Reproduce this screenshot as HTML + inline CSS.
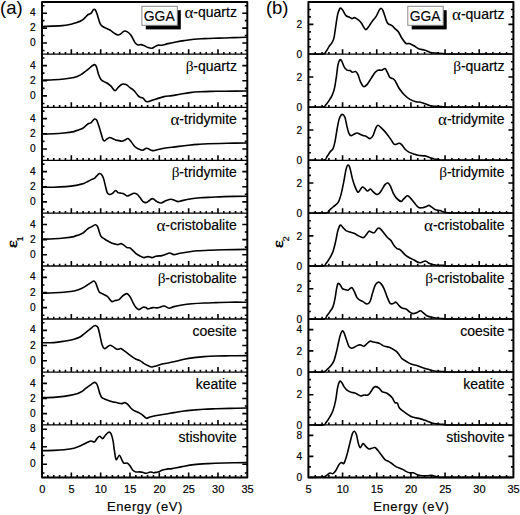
<!DOCTYPE html><html><head><meta charset="utf-8"><style>html,body{margin:0;padding:0;background:#fff;}svg{display:block;}text{font-family:"Liberation Sans",sans-serif;fill:#000;}.s{font-family:"Liberation Serif",serif;}.b{stroke:#000;stroke-width:0.18px;}</style></head><body>
<svg width="520" height="515" viewBox="0 0 520 515">
<rect width="520" height="515" fill="#fff"/>
<text x="35.6" y="42.61" font-size="10.2" text-anchor="end" dominant-baseline="central" class="b">0</text>
<text x="35.6" y="27.7" font-size="10.2" text-anchor="end" dominant-baseline="central" class="b">2</text>
<text x="35.6" y="12.79" font-size="10.2" text-anchor="end" dominant-baseline="central" class="b">4</text>
<path d="M42,26.6 C45.33,26.43 57.17,26 62,25.6 C66.83,25.2 68.83,24.62 71,24.2 C73.17,23.78 73.3,23.67 75,23.1 C76.7,22.53 79.53,21.7 81.2,20.8 C82.87,19.9 83.92,18.7 85,17.7 C86.08,16.7 87,15.38 87.7,14.8 C88.4,14.22 88.62,14.48 89.2,14.2 C89.78,13.92 90.55,13.8 91.2,13.1 C91.85,12.4 92.6,10.65 93.1,10 C93.6,9.35 93.82,9.2 94.2,9.2 C94.58,9.2 94.95,9.28 95.4,10 C95.85,10.72 96.38,12.03 96.9,13.5 C97.42,14.97 97.92,17.02 98.5,18.8 C99.08,20.58 99.7,22.92 100.4,24.2 C101.1,25.48 101.8,25.85 102.7,26.5 C103.6,27.15 104.78,27.6 105.8,28.1 C106.82,28.6 107.9,29.05 108.8,29.5 C109.7,29.95 110.3,30.2 111.2,30.8 C112.1,31.4 113.07,32.4 114.2,33.1 C115.33,33.8 116.87,34.92 118,35 C119.13,35.08 120,34.23 121,33.6 C122,32.97 123,31.53 124,31.2 C125,30.87 125.83,30.93 127,31.6 C128.17,32.27 129.67,33.37 131,35.2 C132.33,37.03 133.83,40.97 135,42.6 C136.17,44.23 137,44.67 138,45 C139,45.33 140,44.5 141,44.6 C142,44.7 142.83,45.1 144,45.6 C145.17,46.1 146.67,47.17 148,47.6 C149.33,48.03 150.83,48.37 152,48.2 C153.17,48.03 154,47.1 155,46.6 C156,46.1 156.83,45.43 158,45.2 C159.17,44.97 160.33,45.47 162,45.2 C163.67,44.93 165.67,44.13 168,43.6 C170.33,43.07 173.33,42.5 176,42 C178.67,41.5 181,41.07 184,40.6 C187,40.13 190.67,39.53 194,39.2 C197.33,38.87 200.67,38.77 204,38.6 C207.33,38.43 210.67,38.3 214,38.2 C217.33,38.1 220.67,38.1 224,38 C227.33,37.9 230.25,37.73 234,37.6 C237.75,37.47 244.42,37.27 246.5,37.2" fill="none" stroke="#000" stroke-width="1.6" stroke-linejoin="round" stroke-linecap="round"/>
<text x="236.9" y="17.2" font-size="14" text-anchor="end" class="b">-quartz</text>
<text transform="translate(193.43,18.1) scale(1.22,1.12)" font-size="14" class="s" text-anchor="end">α</text>
<text x="35.6" y="95.52" font-size="10.2" text-anchor="end" dominant-baseline="central" class="b">0</text>
<text x="35.6" y="80.35" font-size="10.2" text-anchor="end" dominant-baseline="central" class="b">2</text>
<text x="35.6" y="65.18" font-size="10.2" text-anchor="end" dominant-baseline="central" class="b">4</text>
<path d="M42,80.2 C44,80.13 50.33,80 54,79.8 C57.67,79.6 60.67,79.37 64,79 C67.33,78.63 71.17,78.33 74,77.6 C76.83,76.87 79.17,75.6 81,74.6 C82.83,73.6 83.67,72.6 85,71.6 C86.33,70.6 87.83,69.53 89,68.6 C90.17,67.67 91.07,66.67 92,66 C92.93,65.33 93.87,64.5 94.6,64.6 C95.33,64.7 95.73,64.93 96.4,66.6 C97.07,68.27 97.83,72.43 98.6,74.6 C99.37,76.77 100.1,78.43 101,79.6 C101.9,80.77 103,81.03 104,81.6 C105,82.17 105.83,82.23 107,83 C108.17,83.77 109.67,84.93 111,86.2 C112.33,87.47 113.83,90.37 115,90.6 C116.17,90.83 116.83,88.67 118,87.6 C119.17,86.53 120.67,84.7 122,84.2 C123.33,83.7 124.67,84.03 126,84.6 C127.33,85.17 128.67,86.6 130,87.6 C131.33,88.6 132.67,89.27 134,90.6 C135.33,91.93 137,94.5 138,95.6 C139,96.7 139.17,96.77 140,97.2 C140.83,97.63 141.93,97.47 143,98.2 C144.07,98.93 145.23,101.13 146.4,101.6 C147.57,102.07 148.4,101.43 150,101 C151.6,100.57 153.67,99.73 156,99 C158.33,98.27 161.33,97.17 164,96.6 C166.67,96.03 169.33,96 172,95.6 C174.67,95.2 177,94.7 180,94.2 C183,93.7 186.67,93 190,92.6 C193.33,92.2 196.33,92 200,91.8 C203.67,91.6 208,91.5 212,91.4 C216,91.3 218.25,91.27 224,91.2 C229.75,91.13 242.75,91.03 246.5,91" fill="none" stroke="#000" stroke-width="1.6" stroke-linejoin="round" stroke-linecap="round"/>
<text x="236.9" y="70.8" font-size="14" text-anchor="end" class="b">-quartz</text>
<text transform="translate(193.53,70.8) scale(1.1,1.0)" font-size="14" class="s" text-anchor="end">β</text>
<text x="35.6" y="148.54" font-size="10.2" text-anchor="end" dominant-baseline="central" class="b">0</text>
<text x="35.6" y="133.4" font-size="10.2" text-anchor="end" dominant-baseline="central" class="b">2</text>
<text x="35.6" y="118.26" font-size="10.2" text-anchor="end" dominant-baseline="central" class="b">4</text>
<path d="M42,134 C44,133.97 50.33,133.97 54,133.8 C57.67,133.63 60.67,133.37 64,133 C67.33,132.63 72.17,131.93 74,131.6 C75.83,131.27 74.18,131.28 75,131 C75.82,130.72 77.6,130.37 78.9,129.9 C80.2,129.43 81.63,128.92 82.8,128.2 C83.97,127.48 84.93,126.38 85.9,125.6 C86.87,124.82 87.77,123.95 88.6,123.5 C89.43,123.05 90.18,123.4 90.9,122.9 C91.62,122.4 92.25,121.15 92.9,120.5 C93.55,119.85 94.17,119.05 94.8,119 C95.43,118.95 95.98,118.9 96.7,120.2 C97.42,121.5 98.32,124.42 99.1,126.8 C99.88,129.18 100.75,132.37 101.4,134.5 C102.05,136.63 102.48,138.53 103,139.6 C103.52,140.67 103.87,140.97 104.5,140.9 C105.13,140.83 105.95,139.77 106.8,139.2 C107.65,138.63 108.68,137.63 109.6,137.5 C110.52,137.37 111.4,138.05 112.3,138.4 C113.2,138.75 114.38,139.3 115,139.6 C115.62,139.9 115.33,140.03 116,140.2 C116.67,140.37 118,140.43 119,140.6 C120,140.77 121,141.3 122,141.2 C123,141.1 124,140.43 125,140 C126,139.57 127,138.33 128,138.6 C129,138.87 129.83,140.23 131,141.6 C132.17,142.97 133.82,145.62 135,146.8 C136.18,147.98 136.82,148.13 138.1,148.7 C139.38,149.27 141.3,150.27 142.7,150.2 C144.1,150.13 145.08,148.3 146.5,148.3 C147.92,148.3 150.03,149.82 151.2,150.2 C152.37,150.58 152.35,150.72 153.5,150.6 C154.65,150.48 156.57,149.85 158.1,149.5 C159.63,149.15 161.17,148.8 162.7,148.5 C164.23,148.2 165.75,147.9 167.3,147.7 C168.85,147.5 170.08,147.52 172,147.3 C173.92,147.08 176.05,146.73 178.8,146.4 C181.55,146.07 185.3,145.63 188.5,145.3 C191.7,144.97 194.8,144.65 198,144.4 C201.2,144.15 202.88,143.98 207.7,143.8 C212.52,143.62 220.43,143.43 226.9,143.3 C233.37,143.17 243.23,143.05 246.5,143" fill="none" stroke="#000" stroke-width="1.6" stroke-linejoin="round" stroke-linecap="round"/>
<text x="236.9" y="123.9" font-size="14" text-anchor="end" class="b">-tridymite</text>
<text transform="translate(179.44,124.8) scale(1.22,1.12)" font-size="14" class="s" text-anchor="end">α</text>
<text x="35.6" y="201.46" font-size="10.2" text-anchor="end" dominant-baseline="central" class="b">0</text>
<text x="35.6" y="186.35" font-size="10.2" text-anchor="end" dominant-baseline="central" class="b">2</text>
<text x="35.6" y="171.24" font-size="10.2" text-anchor="end" dominant-baseline="central" class="b">4</text>
<path d="M42,187.2 C44,187.2 50,187.3 54,187.2 C58,187.1 62.33,186.9 66,186.6 C69.67,186.3 73.67,185.77 76,185.4 C78.33,185.03 78.68,184.72 80,184.4 C81.32,184.08 82.6,183.98 83.9,183.5 C85.2,183.02 86.5,182.18 87.8,181.5 C89.1,180.82 90.6,179.92 91.7,179.4 C92.8,178.88 93.57,178.98 94.4,178.4 C95.23,177.82 95.87,176.72 96.7,175.9 C97.53,175.08 98.57,173.7 99.4,173.5 C100.23,173.3 100.98,173.78 101.7,174.7 C102.42,175.62 103.05,177 103.7,179 C104.35,181 105.02,184.43 105.6,186.7 C106.18,188.97 106.55,191.3 107.2,192.6 C107.85,193.9 108.67,194.33 109.5,194.5 C110.33,194.67 111.17,194.27 112.2,193.6 C113.23,192.93 114.73,190.67 115.7,190.5 C116.67,190.33 117.28,192.17 118,192.6 C118.72,193.03 119.5,193 120,193.1 C120.5,193.2 120.33,193.05 121,193.2 C121.67,193.35 123,193.53 124,194 C125,194.47 126,195.83 127,196 C128,196.17 128.83,195.47 130,195 C131.17,194.53 132.83,193.33 134,193.2 C135.17,193.07 136,193.47 137,194.2 C138,194.93 139,196.37 140,197.6 C141,198.83 142,200.77 143,201.6 C144,202.43 145.17,202.6 146,202.6 C146.83,202.6 146.93,202.27 148,201.6 C149.07,200.93 150.9,198.6 152.4,198.6 C153.9,198.6 155.57,200.87 157,201.6 C158.43,202.33 159.5,203.17 161,203 C162.5,202.83 164.33,201.23 166,200.6 C167.67,199.97 169.5,199.2 171,199.2 C172.5,199.2 173.83,200.2 175,200.6 C176.17,201 176.83,201.6 178,201.6 C179.17,201.6 180,201.03 182,200.6 C184,200.17 187,199.47 190,199 C193,198.53 196.33,198.1 200,197.8 C203.67,197.5 208,197.4 212,197.2 C216,197 218.25,196.77 224,196.6 C229.75,196.43 242.75,196.27 246.5,196.2" fill="none" stroke="#000" stroke-width="1.6" stroke-linejoin="round" stroke-linecap="round"/>
<text x="236.9" y="176.9" font-size="14" text-anchor="end" class="b">-tridymite</text>
<text transform="translate(179.54,176.9) scale(1.1,1.0)" font-size="14" class="s" text-anchor="end">β</text>
<text x="35.6" y="254.29" font-size="10.2" text-anchor="end" dominant-baseline="central" class="b">0</text>
<text x="35.6" y="239.2" font-size="10.2" text-anchor="end" dominant-baseline="central" class="b">2</text>
<text x="35.6" y="224.11" font-size="10.2" text-anchor="end" dominant-baseline="central" class="b">4</text>
<path d="M42,239.2 C44,239.13 50.33,239 54,238.8 C57.67,238.6 60.67,238.37 64,238 C67.33,237.63 72.17,236.93 74,236.6 C75.83,236.27 74.18,236.28 75,236 C75.82,235.72 77.6,235.38 78.9,234.9 C80.2,234.42 81.7,233.78 82.8,233.1 C83.9,232.42 84.6,231.57 85.5,230.8 C86.4,230.03 87.23,229.15 88.2,228.5 C89.17,227.85 90.13,227.52 91.3,226.9 C92.47,226.28 94.17,224.87 95.2,224.8 C96.23,224.73 96.85,225.43 97.5,226.5 C98.15,227.57 98.52,229.57 99.1,231.2 C99.68,232.83 100.1,235 101,236.3 C101.9,237.6 103.13,238.1 104.5,239 C105.87,239.9 107.77,240.93 109.2,241.7 C110.63,242.47 112.13,243.22 113.1,243.6 C114.07,243.98 114.18,243.83 115,244 C115.82,244.17 117,244.67 118,244.6 C119,244.53 120,243.5 121,243.6 C122,243.7 123,244.53 124,245.2 C125,245.87 126,247.13 127,247.6 C128,248.07 129,247.5 130,248 C131,248.5 132,249.67 133,250.6 C134,251.53 134.83,252.7 136,253.6 C137.17,254.5 138.67,255.33 140,256 C141.33,256.67 142.67,257.5 144,257.6 C145.33,257.7 146.67,256.6 148,256.6 C149.33,256.6 150.67,257.67 152,257.6 C153.33,257.53 154.33,256.53 156,256.2 C157.67,255.87 160.33,255.93 162,255.6 C163.67,255.27 164.67,254.63 166,254.2 C167.33,253.77 168.67,252.93 170,253 C171.33,253.07 172.33,254.57 174,254.6 C175.67,254.63 177.67,253.63 180,253.2 C182.33,252.77 185,252.4 188,252 C191,251.6 194.33,251.1 198,250.8 C201.67,250.5 205.67,250.37 210,250.2 C214.33,250.03 217.92,249.93 224,249.8 C230.08,249.67 242.75,249.47 246.5,249.4" fill="none" stroke="#000" stroke-width="1.6" stroke-linejoin="round" stroke-linecap="round"/>
<text x="236.9" y="229.8" font-size="14" text-anchor="end" class="b">-cristobalite</text>
<text transform="translate(165.42,230.7) scale(1.22,1.12)" font-size="14" class="s" text-anchor="end">α</text>
<text x="35.6" y="307.24" font-size="10.2" text-anchor="end" dominant-baseline="central" class="b">0</text>
<text x="35.6" y="292.1" font-size="10.2" text-anchor="end" dominant-baseline="central" class="b">2</text>
<text x="35.6" y="276.96" font-size="10.2" text-anchor="end" dominant-baseline="central" class="b">4</text>
<path d="M42,293.2 C44,293.13 50.33,292.97 54,292.8 C57.67,292.63 60.67,292.5 64,292.2 C67.33,291.9 71,291.67 74,291 C77,290.33 79.83,289.17 82,288.2 C84.17,287.23 85.5,286.13 87,285.2 C88.5,284.27 89.83,283.3 91,282.6 C92.17,281.9 93.17,280.83 94,281 C94.83,281.17 95.17,281.83 96,283.6 C96.83,285.37 98,289.93 99,291.6 C100,293.27 100.67,292.83 102,293.6 C103.33,294.37 105.67,295.2 107,296.2 C108.33,297.2 109.17,298.7 110,299.6 C110.83,300.5 111.17,301.43 112,301.6 C112.83,301.77 113.83,300.93 115,300.6 C116.17,300.27 117.67,300.43 119,299.6 C120.33,298.77 121.67,296.6 123,295.6 C124.33,294.6 125.83,293.43 127,293.6 C128.17,293.77 129,295.1 130,296.6 C131,298.1 132,300.77 133,302.6 C134,304.43 135,306.43 136,307.6 C137,308.77 137.83,309.67 139,309.6 C140.17,309.53 141.83,307.53 143,307.2 C144.17,306.87 145.17,307.3 146,307.6 C146.83,307.9 146.83,309 148,309 C149.17,309 151.33,307.8 153,307.6 C154.67,307.4 156.17,308.07 158,307.8 C159.83,307.53 162.17,305.93 164,306 C165.83,306.07 167.33,308.1 169,308.2 C170.67,308.3 171.83,307.13 174,306.6 C176.17,306.07 179,305.47 182,305 C185,304.53 188.33,304.13 192,303.8 C195.67,303.47 200,303.2 204,303 C208,302.8 211.67,302.73 216,302.6 C220.33,302.47 224.92,302.27 230,302.2 C235.08,302.13 243.75,302.2 246.5,302.2" fill="none" stroke="#000" stroke-width="1.6" stroke-linejoin="round" stroke-linecap="round"/>
<text x="236.9" y="282.6" font-size="14" text-anchor="end" class="b">-cristobalite</text>
<text transform="translate(165.52,282.6) scale(1.1,1.0)" font-size="14" class="s" text-anchor="end">β</text>
<text x="35.6" y="360.32" font-size="10.2" text-anchor="end" dominant-baseline="central" class="b">0</text>
<text x="35.6" y="345.15" font-size="10.2" text-anchor="end" dominant-baseline="central" class="b">2</text>
<text x="35.6" y="329.98" font-size="10.2" text-anchor="end" dominant-baseline="central" class="b">4</text>
<path d="M42,342.8 C44,342.77 50.33,342.87 54,342.6 C57.67,342.33 60.67,341.77 64,341.2 C67.33,340.63 71.33,339.9 74,339.2 C76.67,338.5 78.17,338 80,337 C81.83,336 83.33,334.5 85,333.2 C86.67,331.9 88.57,330.37 90,329.2 C91.43,328.03 92.67,326.8 93.6,326.2 C94.53,325.6 94.87,325.37 95.6,325.6 C96.33,325.83 97.27,325.93 98,327.6 C98.73,329.27 99.33,332.77 100,335.6 C100.67,338.43 101.27,342.43 102,344.6 C102.73,346.77 103.57,348.17 104.4,348.6 C105.23,349.03 106.07,347.77 107,347.2 C107.93,346.63 109,345.3 110,345.2 C111,345.1 111.83,345.93 113,346.6 C114.17,347.27 115.67,348.87 117,349.2 C118.33,349.53 119.83,348.37 121,348.6 C122.17,348.83 122.83,349.77 124,350.6 C125.17,351.43 126.67,352.6 128,353.6 C129.33,354.6 130.67,355.67 132,356.6 C133.33,357.53 134.67,358.53 136,359.2 C137.33,359.87 138.67,359.87 140,360.6 C141.33,361.33 142.67,362.77 144,363.6 C145.33,364.43 146.73,365.03 148,365.6 C149.27,366.17 150.27,366.93 151.6,367 C152.93,367.07 154.27,366.5 156,366 C157.73,365.5 160,364.5 162,364 C164,363.5 165.67,363.47 168,363 C170.33,362.53 173.33,361.83 176,361.2 C178.67,360.57 181,359.8 184,359.2 C187,358.6 190.67,358.03 194,357.6 C197.33,357.17 200.33,356.87 204,356.6 C207.67,356.33 211.67,356.13 216,356 C220.33,355.87 224.92,355.87 230,355.8 C235.08,355.73 243.75,355.63 246.5,355.6" fill="none" stroke="#000" stroke-width="1.6" stroke-linejoin="round" stroke-linecap="round"/>
<text x="236.9" y="335.6" font-size="14" text-anchor="end" class="b">coesite</text>
<text x="35.6" y="413.19" font-size="10.2" text-anchor="end" dominant-baseline="central" class="b">0</text>
<text x="35.6" y="398.1" font-size="10.2" text-anchor="end" dominant-baseline="central" class="b">2</text>
<text x="35.6" y="383.01" font-size="10.2" text-anchor="end" dominant-baseline="central" class="b">4</text>
<path d="M42,397.6 C44,397.57 50.33,397.6 54,397.4 C57.67,397.2 60.67,396.87 64,396.4 C67.33,395.93 71.17,395.33 74,394.6 C76.83,393.87 79,393.07 81,392 C83,390.93 84.33,389.43 86,388.2 C87.67,386.97 89.6,385.57 91,384.6 C92.4,383.63 93.45,382.52 94.4,382.4 C95.35,382.28 96.05,382.93 96.7,383.9 C97.35,384.87 97.77,386.58 98.3,388.2 C98.83,389.82 99.32,392.05 99.9,393.6 C100.48,395.15 101.03,396.62 101.8,397.5 C102.57,398.38 103.4,398.4 104.5,398.9 C105.6,399.4 107.1,400.02 108.4,400.5 C109.7,400.98 111.2,401.5 112.3,401.8 C113.4,402.1 114.05,402.1 115,402.3 C115.95,402.5 116.83,402.78 118,403 C119.17,403.22 120.83,403.67 122,403.6 C123.17,403.53 124,402.43 125,402.6 C126,402.77 127,403.67 128,404.6 C129,405.53 130,407.2 131,408.2 C132,409.2 132.83,409.93 134,410.6 C135.17,411.27 136.67,411.53 138,412.2 C139.33,412.87 140.6,413.6 142,414.6 C143.4,415.6 145.07,417.8 146.4,418.2 C147.73,418.6 148.07,417.5 150,417 C151.93,416.5 155.33,415.7 158,415.2 C160.67,414.7 163.33,414.43 166,414 C168.67,413.57 171,413.1 174,412.6 C177,412.1 180.67,411.43 184,411 C187.33,410.57 190.67,410.3 194,410 C197.33,409.7 200.33,409.4 204,409.2 C207.67,409 211.67,408.93 216,408.8 C220.33,408.67 224.92,408.53 230,408.4 C235.08,408.27 243.75,408.07 246.5,408" fill="none" stroke="#000" stroke-width="1.6" stroke-linejoin="round" stroke-linecap="round"/>
<text x="236.9" y="388.7" font-size="14" text-anchor="end" class="b">keatite</text>
<text x="35.6" y="463.88" font-size="10.2" text-anchor="end" dominant-baseline="central" class="b">0</text>
<text x="35.6" y="446.38" font-size="10.2" text-anchor="end" dominant-baseline="central" class="b">4</text>
<text x="35.6" y="428.88" font-size="10.2" text-anchor="end" dominant-baseline="central" class="b">8</text>
<path d="M42,450.6 C44,450.57 50.33,450.53 54,450.4 C57.67,450.27 60.67,450.17 64,449.8 C67.33,449.43 71.17,448.9 74,448.2 C76.83,447.5 78.83,446.53 81,445.6 C83.17,444.67 85.33,443.37 87,442.6 C88.67,441.83 89.77,441.1 91,441 C92.23,440.9 93.4,442.4 94.4,442 C95.4,441.6 96.13,439.57 97,438.6 C97.87,437.63 98.67,436.2 99.6,436.2 C100.53,436.2 101.6,438.8 102.6,438.6 C103.6,438.4 104.6,436.07 105.6,435 C106.6,433.93 107.7,432.43 108.6,432.2 C109.5,431.97 110.27,432.2 111,433.6 C111.73,435 112.43,437.77 113,440.6 C113.57,443.43 113.87,447.43 114.4,450.6 C114.93,453.77 115.37,458.83 116.2,459.6 C117.03,460.37 118.43,455.1 119.4,455.2 C120.37,455.3 121.23,458.87 122,460.2 C122.77,461.53 123.08,462.7 124,463.2 C124.92,463.7 126.45,462.7 127.5,463.2 C128.55,463.7 129.45,465.07 130.3,466.2 C131.15,467.33 131.7,469.05 132.6,470 C133.5,470.95 134.55,471.58 135.7,471.9 C136.85,472.22 138.22,471.8 139.5,471.9 C140.78,472 142.23,472.27 143.4,472.5 C144.57,472.73 145.35,473.38 146.5,473.3 C147.65,473.22 149.15,472.1 150.3,472 C151.45,471.9 152.37,472.65 153.4,472.7 C154.43,472.75 155.48,472.5 156.5,472.3 C157.52,472.1 158.62,471.83 159.5,471.5 C160.38,471.17 160.9,470.63 161.8,470.3 C162.7,469.97 163.87,469.73 164.9,469.5 C165.93,469.27 166.82,469.05 168,468.9 C169.18,468.75 169.67,468.98 172,468.6 C174.33,468.22 178.33,467.27 182,466.6 C185.67,465.93 189.67,465.1 194,464.6 C198.33,464.1 203,463.87 208,463.6 C213,463.33 217.58,463.17 224,463 C230.42,462.83 242.75,462.67 246.5,462.6" fill="none" stroke="#000" stroke-width="1.6" stroke-linejoin="round" stroke-linecap="round"/>
<text x="236.9" y="441.5" font-size="14" text-anchor="end" class="b">stishovite</text>
<line x1="42" y1="54.2" x2="247.3" y2="54.2" stroke="#000" stroke-width="1.3"/>
<line x1="42" y1="107.3" x2="247.3" y2="107.3" stroke="#000" stroke-width="1.3"/>
<line x1="42" y1="160.3" x2="247.3" y2="160.3" stroke="#000" stroke-width="1.3"/>
<line x1="42" y1="213.2" x2="247.3" y2="213.2" stroke="#000" stroke-width="1.3"/>
<line x1="42" y1="266" x2="247.3" y2="266" stroke="#000" stroke-width="1.3"/>
<line x1="42" y1="319" x2="247.3" y2="319" stroke="#000" stroke-width="1.3"/>
<line x1="42" y1="372.1" x2="247.3" y2="372.1" stroke="#000" stroke-width="1.3"/>
<line x1="42" y1="424.9" x2="247.3" y2="424.9" stroke="#000" stroke-width="1.3"/>
<rect x="42" y="2" width="205.3" height="475.4" fill="none" stroke="#000" stroke-width="2" stroke-linejoin="round"/>
<text x="42.2" y="492.9" font-size="11" text-anchor="middle" class="b">0</text>
<text x="71.53" y="492.9" font-size="11" text-anchor="middle" class="b">5</text>
<text x="100.86" y="492.9" font-size="11" text-anchor="middle" class="b">10</text>
<text x="130.19" y="492.9" font-size="11" text-anchor="middle" class="b">15</text>
<text x="159.51" y="492.9" font-size="11" text-anchor="middle" class="b">20</text>
<text x="188.84" y="492.9" font-size="11" text-anchor="middle" class="b">25</text>
<text x="218.17" y="492.9" font-size="11" text-anchor="middle" class="b">30</text>
<text x="247.5" y="492.9" font-size="11" text-anchor="middle" class="b">35</text>
<text x="302.2" y="54.4" font-size="10.2" text-anchor="end" dominant-baseline="central" class="b">0</text>
<text x="302.2" y="24.57" font-size="10.2" text-anchor="end" dominant-baseline="central" class="b">2</text>
<path d="M309,54 C311.33,54 320.17,54.4 323,54 C325.83,53.6 325,52.83 326,51.6 C327,50.37 328,48.1 329,46.6 C330,45.1 331.17,44.1 332,42.6 C332.83,41.1 333.33,40.6 334,37.6 C334.67,34.6 335.4,28.43 336,24.6 C336.6,20.77 337,17.2 337.6,14.6 C338.2,12 339.03,10.07 339.6,9 C340.17,7.93 340.43,7.93 341,8.2 C341.57,8.47 342.17,9.37 343,10.6 C343.83,11.83 345,14.53 346,15.6 C347,16.67 348,16.5 349,17 C350,17.5 351.1,18.5 352,18.6 C352.9,18.7 353.4,17.43 354.4,17.6 C355.4,17.77 356.9,18.77 358,19.6 C359.1,20.43 360,21.27 361,22.6 C362,23.93 363.17,26.43 364,27.6 C364.83,28.77 365.17,29.83 366,29.6 C366.83,29.37 368,27.53 369,26.2 C370,24.87 370.83,23.2 372,21.6 C373.17,20 374.83,18.43 376,16.6 C377.17,14.77 378.17,12 379,10.6 C379.83,9.2 380.33,8.2 381,8.2 C381.67,8.2 382.17,8.7 383,10.6 C383.83,12.5 385.17,17.43 386,19.6 C386.83,21.77 387,22.6 388,23.6 C389,24.6 390.83,24.77 392,25.6 C393.17,26.43 393.92,27.53 395,28.6 C396.08,29.67 397.35,30.38 398.5,32 C399.65,33.62 400.65,36.38 401.9,38.3 C403.15,40.22 404.75,42.63 406,43.5 C407.25,44.37 408.07,43.12 409.4,43.5 C410.73,43.88 412.37,44.87 414,45.8 C415.63,46.73 417.47,48.42 419.2,49.1 C420.93,49.78 422.87,49.48 424.4,49.9 C425.93,50.32 427.15,51.12 428.4,51.6 C429.65,52.08 430.55,52.55 431.9,52.8 C433.25,53.05 434.32,52.95 436.5,53.1 C438.68,53.25 442.42,53.55 445,53.7 C447.58,53.85 440.83,53.95 452,54 C463.17,54.05 502,54 512,54" fill="none" stroke="#000" stroke-width="1.6" stroke-linejoin="round" stroke-linecap="round"/>
<text x="504.5" y="18.9" font-size="14" text-anchor="end" class="b">-quartz</text>
<text transform="translate(461.03,19.8) scale(1.22,1.12)" font-size="14" class="s" text-anchor="end">α</text>
<text x="302.2" y="107.5" font-size="10.2" text-anchor="end" dominant-baseline="central" class="b">0</text>
<text x="302.2" y="77.16" font-size="10.2" text-anchor="end" dominant-baseline="central" class="b">2</text>
<path d="M309,107 C311.33,107 320.17,107.4 323,107 C325.83,106.6 325,105.67 326,104.6 C327,103.53 328,102.1 329,100.6 C330,99.1 331.1,97.6 332,95.6 C332.9,93.6 333.67,91.77 334.4,88.6 C335.13,85.43 335.8,80.6 336.4,76.6 C337,72.6 337.4,67.43 338,64.6 C338.6,61.77 339.33,60.1 340,59.6 C340.67,59.1 341.33,60.43 342,61.6 C342.67,62.77 343.17,65.17 344,66.6 C344.83,68.03 346,69.53 347,70.2 C348,70.87 349.1,70.27 350,70.6 C350.9,70.93 351.47,72.03 352.4,72.2 C353.33,72.37 354.67,71.2 355.6,71.6 C356.53,72 357.2,72.93 358,74.6 C358.8,76.27 359.47,79.6 360.4,81.6 C361.33,83.6 362.5,86.1 363.6,86.6 C364.7,87.1 365.77,85.93 367,84.6 C368.23,83.27 369.67,80.6 371,78.6 C372.33,76.6 373.83,74 375,72.6 C376.17,71.2 376.9,70.6 378,70.2 C379.1,69.8 380.43,70.47 381.6,70.2 C382.77,69.93 384.1,68.37 385,68.6 C385.9,68.83 386.17,70.1 387,71.6 C387.83,73.1 389,76.43 390,77.6 C391,78.77 392.17,78.1 393,78.6 C393.83,79.1 394.28,79.53 395,80.6 C395.72,81.67 396.53,83.6 397.3,85 C398.07,86.4 398.45,87.37 399.6,89 C400.75,90.63 402.47,93.07 404.2,94.8 C405.93,96.53 408.07,98.25 410,99.4 C411.93,100.55 414.07,101.22 415.8,101.7 C417.53,102.18 418.87,101.97 420.4,102.3 C421.93,102.63 423.47,103.17 425,103.7 C426.53,104.23 428.07,105.07 429.6,105.5 C431.13,105.93 432.67,106.15 434.2,106.3 C435.73,106.45 437.27,106.33 438.8,106.4 C440.33,106.47 441.53,106.6 443.4,106.7 C445.27,106.8 438.57,106.95 450,107 C461.43,107.05 501.67,107 512,107" fill="none" stroke="#000" stroke-width="1.6" stroke-linejoin="round" stroke-linecap="round"/>
<text x="504.5" y="71.2" font-size="14" text-anchor="end" class="b">-quartz</text>
<text transform="translate(461.13,71.2) scale(1.1,1.0)" font-size="14" class="s" text-anchor="end">β</text>
<text x="302.2" y="160.5" font-size="10.2" text-anchor="end" dominant-baseline="central" class="b">0</text>
<text x="302.2" y="130.21" font-size="10.2" text-anchor="end" dominant-baseline="central" class="b">2</text>
<path d="M309,160 C311.5,160 321,160.57 324,160 C327,159.43 326,157.93 327,156.6 C328,155.27 329,153.33 330,152 C331,150.67 332.17,150.33 333,148.6 C333.83,146.87 334.33,144.77 335,141.6 C335.67,138.43 336.33,133.27 337,129.6 C337.67,125.93 338.33,122 339,119.6 C339.67,117.2 340.33,116.03 341,115.2 C341.67,114.37 342.33,114.2 343,114.6 C343.67,115 344.33,115.6 345,117.6 C345.67,119.6 346.33,123.93 347,126.6 C347.67,129.27 348.33,132.1 349,133.6 C349.67,135.1 350.17,135.5 351,135.6 C351.83,135.7 353,134.63 354,134.2 C355,133.77 356,133 357,133 C358,133 359,133.77 360,134.2 C361,134.63 362,135.27 363,135.6 C364,135.93 364.83,135.7 366,136.2 C367.17,136.7 368.83,138.7 370,138.6 C371.17,138.5 372,137.43 373,135.6 C374,133.77 375.17,129.33 376,127.6 C376.83,125.87 377.17,125.2 378,125.2 C378.83,125.2 379.83,126.53 381,127.6 C382.17,128.67 383.83,130.27 385,131.6 C386.17,132.93 387,134.27 388,135.6 C389,136.93 390,138.17 391,139.6 C392,141.03 393,143.47 394,144.2 C395,144.93 396.07,144.17 397,144 C397.93,143.83 398.78,143.05 399.6,143.2 C400.42,143.35 400.93,143.85 401.9,144.9 C402.87,145.95 404.15,148.25 405.4,149.5 C406.65,150.75 408.05,151.67 409.4,152.4 C410.75,153.13 412.05,153.42 413.5,153.9 C414.95,154.38 416.18,154.97 418.1,155.3 C420.02,155.63 423.08,155.55 425,155.9 C426.92,156.25 428.07,156.88 429.6,157.4 C431.13,157.92 432.67,158.65 434.2,159 C435.73,159.35 436.83,159.33 438.8,159.5 C440.77,159.67 433.8,159.92 446,160 C458.2,160.08 501,160 512,160" fill="none" stroke="#000" stroke-width="1.6" stroke-linejoin="round" stroke-linecap="round"/>
<text x="504.5" y="124.3" font-size="14" text-anchor="end" class="b">-tridymite</text>
<text transform="translate(447.04,125.2) scale(1.22,1.12)" font-size="14" class="s" text-anchor="end">α</text>
<text x="302.2" y="213.4" font-size="10.2" text-anchor="end" dominant-baseline="central" class="b">0</text>
<text x="302.2" y="183.17" font-size="10.2" text-anchor="end" dominant-baseline="central" class="b">2</text>
<path d="M309,213 C311.83,213 322.67,213.4 326,213 C329.33,212.6 327.83,211.6 329,210.6 C330.17,209.6 331.5,208.33 333,207 C334.5,205.67 336.67,204.67 338,202.6 C339.33,200.53 340.07,197.93 341,194.6 C341.93,191.27 342.77,186.77 343.6,182.6 C344.43,178.43 345.27,172.53 346,169.6 C346.73,166.67 347.33,165.23 348,165 C348.67,164.77 349.27,165.93 350,168.2 C350.73,170.47 351.57,175.53 352.4,178.6 C353.23,181.67 354.07,184.33 355,186.6 C355.93,188.87 357.1,191.7 358,192.2 C358.9,192.7 359.67,190.47 360.4,189.6 C361.13,188.73 361.63,187.17 362.4,187 C363.17,186.83 364.13,187.93 365,188.6 C365.87,189.27 366.7,190.93 367.6,191 C368.5,191.07 369.5,188.9 370.4,189 C371.3,189.1 372.07,190.73 373,191.6 C373.93,192.47 375,193.87 376,194.2 C377,194.53 378,194.37 379,193.6 C380,192.83 381,191.1 382,189.6 C383,188.1 384,185.7 385,184.6 C386,183.5 387.1,182.73 388,183 C388.9,183.27 389.57,184.6 390.4,186.2 C391.23,187.8 392.07,190.7 393,192.6 C393.93,194.5 394.7,196.13 396,197.6 C397.3,199.07 399.55,201.13 400.8,201.4 C402.05,201.67 402.45,200.13 403.5,199.2 C404.55,198.27 406.1,196.17 407.1,195.8 C408.1,195.43 408.63,196.27 409.5,197 C410.37,197.73 410.87,198.5 412.3,200.2 C413.73,201.9 416.37,205.95 418.1,207.2 C419.83,208.45 421.3,207.82 422.7,207.7 C424.1,207.58 425.45,206.88 426.5,206.5 C427.55,206.12 428.1,205.28 429,205.4 C429.9,205.52 430.83,206.48 431.9,207.2 C432.97,207.92 434.05,209.13 435.4,209.7 C436.75,210.27 438.47,210.17 440,210.6 C441.53,211.03 443.07,211.93 444.6,212.3 C446.13,212.67 447.47,212.68 449.2,212.8 C450.93,212.92 444.53,212.97 455,213 C465.47,213.03 502.5,213 512,213" fill="none" stroke="#000" stroke-width="1.6" stroke-linejoin="round" stroke-linecap="round"/>
<text x="504.5" y="177.3" font-size="14" text-anchor="end" class="b">-tridymite</text>
<text transform="translate(447.14,177.3) scale(1.1,1.0)" font-size="14" class="s" text-anchor="end">β</text>
<text x="302.2" y="266.2" font-size="10.2" text-anchor="end" dominant-baseline="central" class="b">0</text>
<text x="302.2" y="236.03" font-size="10.2" text-anchor="end" dominant-baseline="central" class="b">2</text>
<path d="M309,266 C311.33,266 320.17,266.4 323,266 C325.83,265.6 324.83,265 326,263.6 C327.17,262.2 328.83,259.6 330,257.6 C331.17,255.6 332.07,254.27 333,251.6 C333.93,248.93 334.83,244.93 335.6,241.6 C336.37,238.27 336.93,234.2 337.6,231.6 C338.27,229 339.03,227.07 339.6,226 C340.17,224.93 340.43,224.93 341,225.2 C341.57,225.47 342.17,226.7 343,227.6 C343.83,228.5 344.83,229.87 346,230.6 C347.17,231.33 348.67,231.57 350,232 C351.33,232.43 352.67,232.6 354,233.2 C355.33,233.8 356.83,234.97 358,235.6 C359.17,236.23 360.07,236.67 361,237 C361.93,237.33 362.7,238 363.6,237.6 C364.5,237.2 365.5,235.67 366.4,234.6 C367.3,233.53 368.13,231.6 369,231.2 C369.87,230.8 370.7,231.97 371.6,232.2 C372.5,232.43 373.5,233.1 374.4,232.6 C375.3,232.1 376.23,229.97 377,229.2 C377.77,228.43 378.17,227.77 379,228 C379.83,228.23 381,229.5 382,230.6 C383,231.7 384,233.37 385,234.6 C386,235.83 387,237 388,238 C389,239 390,239.33 391,240.6 C392,241.87 393,244.27 394,245.6 C395,246.93 396,247.93 397,248.6 C398,249.27 399,248.93 400,249.6 C401,250.27 402,251.6 403,252.6 C404,253.6 404.83,254.7 406,255.6 C407.17,256.5 408.67,257.27 410,258 C411.33,258.73 412.5,259.23 414,260 C415.5,260.77 417.67,262.23 419,262.6 C420.33,262.97 420.9,262.47 422,262.2 C423.1,261.93 424.33,260.77 425.6,261 C426.87,261.23 428.17,262.97 429.6,263.6 C431.03,264.23 432.67,264.5 434.2,264.8 C435.73,265.1 437.27,265.33 438.8,265.4 C440.33,265.47 441.53,265.1 443.4,265.2 C445.27,265.3 438.57,265.87 450,266 C461.43,266.13 501.67,266 512,266" fill="none" stroke="#000" stroke-width="1.6" stroke-linejoin="round" stroke-linecap="round"/>
<text x="504.5" y="230.2" font-size="14" text-anchor="end" class="b">-cristobalite</text>
<text transform="translate(433.02,231.1) scale(1.22,1.12)" font-size="14" class="s" text-anchor="end">α</text>
<text x="302.2" y="319.2" font-size="10.2" text-anchor="end" dominant-baseline="central" class="b">0</text>
<text x="302.2" y="288.91" font-size="10.2" text-anchor="end" dominant-baseline="central" class="b">2</text>
<path d="M309,319 C311.5,319 321,319.57 324,319 C327,318.43 326,316.83 327,315.6 C328,314.37 329,313.1 330,311.6 C331,310.1 332.17,308.77 333,306.6 C333.83,304.43 334.4,301.6 335,298.6 C335.6,295.6 336.1,291.1 336.6,288.6 C337.1,286.1 337.43,284.27 338,283.6 C338.57,282.93 339.27,283.77 340,284.6 C340.73,285.43 341.57,287.77 342.4,288.6 C343.23,289.43 344.07,289.33 345,289.6 C345.93,289.87 347.17,290.37 348,290.2 C348.83,290.03 349.33,289.03 350,288.6 C350.67,288.17 351.27,287.1 352,287.6 C352.73,288.1 353.57,289.93 354.4,291.6 C355.23,293.27 356.07,296.17 357,297.6 C357.93,299.03 359,299.53 360,300.2 C361,300.87 361.83,300.97 363,301.6 C364.17,302.23 365.83,304 367,304 C368.17,304 369.1,303.33 370,301.6 C370.9,299.87 371.57,296.27 372.4,293.6 C373.23,290.93 374.07,287.5 375,285.6 C375.93,283.7 377,282.53 378,282.2 C379,281.87 380,282.53 381,283.6 C382,284.67 383,286.43 384,288.6 C385,290.77 386,294.17 387,296.6 C388,299.03 389,302.03 390,303.2 C391,304.37 392,303.77 393,303.6 C394,303.43 395,301.87 396,302.2 C397,302.53 398,304.63 399,305.6 C400,306.57 400.83,307.43 402,308 C403.17,308.57 404.67,308.3 406,309 C407.33,309.7 408.83,311.43 410,312.2 C411.17,312.97 411.92,313.5 413,313.6 C414.08,313.7 415.27,313.27 416.5,312.8 C417.73,312.33 419.32,310.83 420.4,310.8 C421.48,310.77 421.85,311.73 423,312.6 C424.15,313.47 425.62,315.18 427.3,316 C428.98,316.82 431.18,317.12 433.1,317.5 C435.02,317.88 436.98,318.1 438.8,318.3 C440.62,318.5 442.13,318.58 444,318.7 C445.87,318.82 438.67,318.95 450,319 C461.33,319.05 501.67,319 512,319" fill="none" stroke="#000" stroke-width="1.6" stroke-linejoin="round" stroke-linecap="round"/>
<text x="504.5" y="283" font-size="14" text-anchor="end" class="b">-cristobalite</text>
<text transform="translate(433.12,283) scale(1.1,1.0)" font-size="14" class="s" text-anchor="end">β</text>
<text x="302.2" y="372.3" font-size="10.2" text-anchor="end" dominant-baseline="central" class="b">0</text>
<text x="302.2" y="351.06" font-size="10.2" text-anchor="end" dominant-baseline="central" class="b">2</text>
<text x="302.2" y="329.82" font-size="10.2" text-anchor="end" dominant-baseline="central" class="b">4</text>
<path d="M309,372 C311.33,372 320,372.4 323,372 C326,371.6 325.67,370.67 327,369.6 C328.33,368.53 329.83,367.1 331,365.6 C332.17,364.1 333,363.27 334,360.6 C335,357.93 336.07,353.43 337,349.6 C337.93,345.77 338.77,340.67 339.6,337.6 C340.43,334.53 341.27,332.03 342,331.2 C342.73,330.37 343.27,331.2 344,332.6 C344.73,334 345.57,337.27 346.4,339.6 C347.23,341.93 348.13,345.17 349,346.6 C349.87,348.03 350.7,348.1 351.6,348.2 C352.5,348.3 353.33,347.7 354.4,347.2 C355.47,346.7 356.9,345.57 358,345.2 C359.1,344.83 360,344.83 361,345 C362,345.17 363,346.43 364,346.2 C365,345.97 366,344.43 367,343.6 C368,342.77 369,341.47 370,341.2 C371,340.93 371.83,341.77 373,342 C374.17,342.23 375.83,342.33 377,342.6 C378.17,342.87 379,343.1 380,343.6 C381,344.1 382,345.1 383,345.6 C384,346.1 385,346.33 386,346.6 C387,346.87 388,346.87 389,347.2 C390,347.53 390.83,347.93 392,348.6 C393.17,349.27 394.83,350.2 396,351.2 C397.17,352.2 398,353.37 399,354.6 C400,355.83 400.75,357.45 402,358.6 C403.25,359.75 404.97,360.58 406.5,361.5 C408.03,362.42 409.47,363.42 411.2,364.1 C412.93,364.78 415.18,365.07 416.9,365.6 C418.62,366.13 419.97,366.78 421.5,367.3 C423.03,367.82 424.55,368.22 426.1,368.7 C427.65,369.18 429.45,369.82 430.8,370.2 C432.15,370.58 432.87,370.8 434.2,371 C435.53,371.2 437.07,371.3 438.8,371.4 C440.53,371.5 442.57,371.5 444.6,371.6 C446.63,371.7 439.77,371.93 451,372 C462.23,372.07 501.83,372 512,372" fill="none" stroke="#000" stroke-width="1.6" stroke-linejoin="round" stroke-linecap="round"/>
<text x="504.5" y="336" font-size="14" text-anchor="end" class="b">coesite</text>
<text x="302.2" y="425.1" font-size="10.2" text-anchor="end" dominant-baseline="central" class="b">0</text>
<text x="302.2" y="394.93" font-size="10.2" text-anchor="end" dominant-baseline="central" class="b">2</text>
<path d="M309,425 C311.33,425 320.17,425.4 323,425 C325.83,424.6 324.83,424 326,422.6 C327.17,421.2 328.83,418.6 330,416.6 C331.17,414.6 332.07,413.27 333,410.6 C333.93,407.93 334.83,404.43 335.6,400.6 C336.37,396.77 336.93,390.77 337.6,387.6 C338.27,384.43 338.93,382.5 339.6,381.6 C340.27,380.7 340.87,381.37 341.6,382.2 C342.33,383.03 343.1,385.27 344,386.6 C344.9,387.93 345.83,389.27 347,390.2 C348.17,391.13 349.67,391.73 351,392.2 C352.33,392.67 353.83,392.6 355,393 C356.17,393.4 357,394.1 358,394.6 C359,395.1 360,395.93 361,396 C362,396.07 362.83,395.17 364,395 C365.17,394.83 366.83,395.57 368,395 C369.17,394.43 370.07,392.83 371,391.6 C371.93,390.37 372.77,388.43 373.6,387.6 C374.43,386.77 375.1,386.5 376,386.6 C376.9,386.7 378,387.37 379,388.2 C380,389.03 381,390.87 382,391.6 C383,392.33 384,392.2 385,392.6 C386,393 386.83,393.17 388,394 C389.17,394.83 390.83,396.17 392,397.6 C393.17,399.03 394.12,401.7 395,402.6 C395.88,403.5 396.53,402.07 397.3,403 C398.07,403.93 398.25,406.57 399.6,408.2 C400.95,409.83 403.28,411.32 405.4,412.8 C407.52,414.28 409.9,416.13 412.3,417.1 C414.7,418.07 417.68,418.07 419.8,418.6 C421.92,419.13 423.37,419.73 425,420.3 C426.63,420.87 428.07,421.47 429.6,422 C431.13,422.53 432.67,423.17 434.2,423.5 C435.73,423.83 437.07,423.83 438.8,424 C440.53,424.17 442.57,424.33 444.6,424.5 C446.63,424.67 439.77,424.92 451,425 C462.23,425.08 501.83,425 512,425" fill="none" stroke="#000" stroke-width="1.6" stroke-linejoin="round" stroke-linecap="round"/>
<text x="504.5" y="389.1" font-size="14" text-anchor="end" class="b">keatite</text>
<text x="302.2" y="477.6" font-size="10.2" text-anchor="end" dominant-baseline="central" class="b">0</text>
<text x="302.2" y="456.6" font-size="10.2" text-anchor="end" dominant-baseline="central" class="b">4</text>
<text x="302.2" y="435.6" font-size="10.2" text-anchor="end" dominant-baseline="central" class="b">8</text>
<path d="M309,477.4 C311.33,477.33 320.17,477.3 323,477 C325.83,476.7 324.83,476.27 326,475.6 C327.17,474.93 328.83,473.33 330,473 C331.17,472.67 332,474.07 333,473.6 C334,473.13 335,471.7 336,470.2 C337,468.7 338.07,465.87 339,464.6 C339.93,463.33 340.77,462.83 341.6,462.6 C342.43,462.37 343.1,464.53 344,463.2 C344.9,461.87 346,458.03 347,454.6 C348,451.17 349.1,446.1 350,442.6 C350.9,439.1 351.67,435.5 352.4,433.6 C353.13,431.7 353.73,431.03 354.4,431.2 C355.07,431.37 355.73,432.53 356.4,434.6 C357.07,436.67 357.73,441.43 358.4,443.6 C359.07,445.77 359.63,447.6 360.4,447.6 C361.17,447.6 362.07,443.77 363,443.6 C363.93,443.43 365,445.7 366,446.6 C367,447.5 368,448.73 369,449 C370,449.27 371,448.43 372,448.2 C373,447.97 374,447.2 375,447.6 C376,448 377,449.43 378,450.6 C379,451.77 379.83,453.1 381,454.6 C382.17,456.1 383.67,458.43 385,459.6 C386.33,460.77 387.83,460.93 389,461.6 C390.17,462.27 390.83,462.77 392,463.6 C393.17,464.43 394.22,465.63 396,466.6 C397.78,467.57 401.03,468.6 402.7,469.4 C404.37,470.2 404.88,470.83 406,471.4 C407.12,471.97 408.18,472.57 409.4,472.8 C410.62,473.03 411.85,472.43 413.3,472.8 C414.75,473.17 416.5,474.52 418.1,475 C419.7,475.48 421.3,475.58 422.9,475.7 C424.5,475.82 426.27,475.75 427.7,475.7 C429.13,475.65 430.22,475.3 431.5,475.4 C432.78,475.5 434.27,476.02 435.4,476.3 C436.53,476.58 436.53,476.92 438.3,477.1 C440.07,477.28 433.72,477.35 446,477.4 C458.28,477.45 501,477.4 512,477.4" fill="none" stroke="#000" stroke-width="1.6" stroke-linejoin="round" stroke-linecap="round"/>
<text x="504.5" y="441.9" font-size="14" text-anchor="end" class="b">stishovite</text>
<line x1="308.4" y1="54.2" x2="513.4" y2="54.2" stroke="#000" stroke-width="1.3"/>
<line x1="308.4" y1="107.3" x2="513.4" y2="107.3" stroke="#000" stroke-width="1.3"/>
<line x1="308.4" y1="160.3" x2="513.4" y2="160.3" stroke="#000" stroke-width="1.3"/>
<line x1="308.4" y1="213.2" x2="513.4" y2="213.2" stroke="#000" stroke-width="1.3"/>
<line x1="308.4" y1="266" x2="513.4" y2="266" stroke="#000" stroke-width="1.3"/>
<line x1="308.4" y1="319" x2="513.4" y2="319" stroke="#000" stroke-width="1.3"/>
<line x1="308.4" y1="372.1" x2="513.4" y2="372.1" stroke="#000" stroke-width="1.3"/>
<line x1="308.4" y1="424.9" x2="513.4" y2="424.9" stroke="#000" stroke-width="1.3"/>
<rect x="308.4" y="2" width="205" height="475.4" fill="none" stroke="#000" stroke-width="2" stroke-linejoin="round"/>
<text x="308.6" y="492.9" font-size="11" text-anchor="middle" class="b">5</text>
<text x="342.77" y="492.9" font-size="11" text-anchor="middle" class="b">10</text>
<text x="376.93" y="492.9" font-size="11" text-anchor="middle" class="b">15</text>
<text x="411.1" y="492.9" font-size="11" text-anchor="middle" class="b">20</text>
<text x="445.27" y="492.9" font-size="11" text-anchor="middle" class="b">25</text>
<text x="479.43" y="492.9" font-size="11" text-anchor="middle" class="b">30</text>
<text x="513.6" y="492.9" font-size="11" text-anchor="middle" class="b">35</text>
<path d="M42,50.47h2.5M247.3,50.47h-2.5M42,43.01h5M247.3,43.01h-5M42,35.56h2.5M247.3,35.56h-2.5M42,28.1h5M247.3,28.1h-5M42,20.64h2.5M247.3,20.64h-2.5M42,13.19h5M247.3,13.19h-5M42,5.73h2.5M247.3,5.73h-2.5M47.87,54.2v-2.3M53.73,54.2v-2.3M59.6,54.2v-2.3M65.46,54.2v-2.3M71.33,54.2v-5M77.19,54.2v-2.3M83.06,54.2v-2.3M88.93,54.2v-2.3M94.79,54.2v-2.3M100.66,54.2v-5M106.52,54.2v-2.3M112.39,54.2v-2.3M118.25,54.2v-2.3M124.12,54.2v-2.3M129.99,54.2v-5M135.85,54.2v-2.3M141.72,54.2v-2.3M147.58,54.2v-2.3M153.45,54.2v-2.3M159.31,54.2v-5M165.18,54.2v-2.3M171.05,54.2v-2.3M176.91,54.2v-2.3M182.78,54.2v-2.3M188.64,54.2v-5M194.51,54.2v-2.3M200.37,54.2v-2.3M206.24,54.2v-2.3M212.11,54.2v-2.3M217.97,54.2v-5M223.84,54.2v-2.3M229.7,54.2v-2.3M235.57,54.2v-2.3M241.43,54.2v-2.3M42,103.51h2.5M247.3,103.51h-2.5M42,95.92h5M247.3,95.92h-5M42,88.34h2.5M247.3,88.34h-2.5M42,80.75h5M247.3,80.75h-5M42,73.16h2.5M247.3,73.16h-2.5M42,65.58h5M247.3,65.58h-5M42,57.99h2.5M247.3,57.99h-2.5M47.87,107.3v-2.3M53.73,107.3v-2.3M59.6,107.3v-2.3M65.46,107.3v-2.3M71.33,107.3v-5M77.19,107.3v-2.3M83.06,107.3v-2.3M88.93,107.3v-2.3M94.79,107.3v-2.3M100.66,107.3v-5M106.52,107.3v-2.3M112.39,107.3v-2.3M118.25,107.3v-2.3M124.12,107.3v-2.3M129.99,107.3v-5M135.85,107.3v-2.3M141.72,107.3v-2.3M147.58,107.3v-2.3M153.45,107.3v-2.3M159.31,107.3v-5M165.18,107.3v-2.3M171.05,107.3v-2.3M176.91,107.3v-2.3M182.78,107.3v-2.3M188.64,107.3v-5M194.51,107.3v-2.3M200.37,107.3v-2.3M206.24,107.3v-2.3M212.11,107.3v-2.3M217.97,107.3v-5M223.84,107.3v-2.3M229.7,107.3v-2.3M235.57,107.3v-2.3M241.43,107.3v-2.3M42,156.51h2.5M247.3,156.51h-2.5M42,148.94h5M247.3,148.94h-5M42,141.37h2.5M247.3,141.37h-2.5M42,133.8h5M247.3,133.8h-5M42,126.23h2.5M247.3,126.23h-2.5M42,118.66h5M247.3,118.66h-5M42,111.09h2.5M247.3,111.09h-2.5M47.87,160.3v-2.3M53.73,160.3v-2.3M59.6,160.3v-2.3M65.46,160.3v-2.3M71.33,160.3v-5M77.19,160.3v-2.3M83.06,160.3v-2.3M88.93,160.3v-2.3M94.79,160.3v-2.3M100.66,160.3v-5M106.52,160.3v-2.3M112.39,160.3v-2.3M118.25,160.3v-2.3M124.12,160.3v-2.3M129.99,160.3v-5M135.85,160.3v-2.3M141.72,160.3v-2.3M147.58,160.3v-2.3M153.45,160.3v-2.3M159.31,160.3v-5M165.18,160.3v-2.3M171.05,160.3v-2.3M176.91,160.3v-2.3M182.78,160.3v-2.3M188.64,160.3v-5M194.51,160.3v-2.3M200.37,160.3v-2.3M206.24,160.3v-2.3M212.11,160.3v-2.3M217.97,160.3v-5M223.84,160.3v-2.3M229.7,160.3v-2.3M235.57,160.3v-2.3M241.43,160.3v-2.3M42,209.42h2.5M247.3,209.42h-2.5M42,201.86h5M247.3,201.86h-5M42,194.31h2.5M247.3,194.31h-2.5M42,186.75h5M247.3,186.75h-5M42,179.19h2.5M247.3,179.19h-2.5M42,171.64h5M247.3,171.64h-5M42,164.08h2.5M247.3,164.08h-2.5M47.87,213.2v-2.3M53.73,213.2v-2.3M59.6,213.2v-2.3M65.46,213.2v-2.3M71.33,213.2v-5M77.19,213.2v-2.3M83.06,213.2v-2.3M88.93,213.2v-2.3M94.79,213.2v-2.3M100.66,213.2v-5M106.52,213.2v-2.3M112.39,213.2v-2.3M118.25,213.2v-2.3M124.12,213.2v-2.3M129.99,213.2v-5M135.85,213.2v-2.3M141.72,213.2v-2.3M147.58,213.2v-2.3M153.45,213.2v-2.3M159.31,213.2v-5M165.18,213.2v-2.3M171.05,213.2v-2.3M176.91,213.2v-2.3M182.78,213.2v-2.3M188.64,213.2v-5M194.51,213.2v-2.3M200.37,213.2v-2.3M206.24,213.2v-2.3M212.11,213.2v-2.3M217.97,213.2v-5M223.84,213.2v-2.3M229.7,213.2v-2.3M235.57,213.2v-2.3M241.43,213.2v-2.3M42,262.23h2.5M247.3,262.23h-2.5M42,254.69h5M247.3,254.69h-5M42,247.14h2.5M247.3,247.14h-2.5M42,239.6h5M247.3,239.6h-5M42,232.06h2.5M247.3,232.06h-2.5M42,224.51h5M247.3,224.51h-5M42,216.97h2.5M247.3,216.97h-2.5M47.87,266v-2.3M53.73,266v-2.3M59.6,266v-2.3M65.46,266v-2.3M71.33,266v-5M77.19,266v-2.3M83.06,266v-2.3M88.93,266v-2.3M94.79,266v-2.3M100.66,266v-5M106.52,266v-2.3M112.39,266v-2.3M118.25,266v-2.3M124.12,266v-2.3M129.99,266v-5M135.85,266v-2.3M141.72,266v-2.3M147.58,266v-2.3M153.45,266v-2.3M159.31,266v-5M165.18,266v-2.3M171.05,266v-2.3M176.91,266v-2.3M182.78,266v-2.3M188.64,266v-5M194.51,266v-2.3M200.37,266v-2.3M206.24,266v-2.3M212.11,266v-2.3M217.97,266v-5M223.84,266v-2.3M229.7,266v-2.3M235.57,266v-2.3M241.43,266v-2.3M42,315.21h2.5M247.3,315.21h-2.5M42,307.64h5M247.3,307.64h-5M42,300.07h2.5M247.3,300.07h-2.5M42,292.5h5M247.3,292.5h-5M42,284.93h2.5M247.3,284.93h-2.5M42,277.36h5M247.3,277.36h-5M42,269.79h2.5M247.3,269.79h-2.5M47.87,319v-2.3M53.73,319v-2.3M59.6,319v-2.3M65.46,319v-2.3M71.33,319v-5M77.19,319v-2.3M83.06,319v-2.3M88.93,319v-2.3M94.79,319v-2.3M100.66,319v-5M106.52,319v-2.3M112.39,319v-2.3M118.25,319v-2.3M124.12,319v-2.3M129.99,319v-5M135.85,319v-2.3M141.72,319v-2.3M147.58,319v-2.3M153.45,319v-2.3M159.31,319v-5M165.18,319v-2.3M171.05,319v-2.3M176.91,319v-2.3M182.78,319v-2.3M188.64,319v-5M194.51,319v-2.3M200.37,319v-2.3M206.24,319v-2.3M212.11,319v-2.3M217.97,319v-5M223.84,319v-2.3M229.7,319v-2.3M235.57,319v-2.3M241.43,319v-2.3M42,368.31h2.5M247.3,368.31h-2.5M42,360.72h5M247.3,360.72h-5M42,353.14h2.5M247.3,353.14h-2.5M42,345.55h5M247.3,345.55h-5M42,337.96h2.5M247.3,337.96h-2.5M42,330.38h5M247.3,330.38h-5M42,322.79h2.5M247.3,322.79h-2.5M47.87,372.1v-2.3M53.73,372.1v-2.3M59.6,372.1v-2.3M65.46,372.1v-2.3M71.33,372.1v-5M77.19,372.1v-2.3M83.06,372.1v-2.3M88.93,372.1v-2.3M94.79,372.1v-2.3M100.66,372.1v-5M106.52,372.1v-2.3M112.39,372.1v-2.3M118.25,372.1v-2.3M124.12,372.1v-2.3M129.99,372.1v-5M135.85,372.1v-2.3M141.72,372.1v-2.3M147.58,372.1v-2.3M153.45,372.1v-2.3M159.31,372.1v-5M165.18,372.1v-2.3M171.05,372.1v-2.3M176.91,372.1v-2.3M182.78,372.1v-2.3M188.64,372.1v-5M194.51,372.1v-2.3M200.37,372.1v-2.3M206.24,372.1v-2.3M212.11,372.1v-2.3M217.97,372.1v-5M223.84,372.1v-2.3M229.7,372.1v-2.3M235.57,372.1v-2.3M241.43,372.1v-2.3M42,421.13h2.5M247.3,421.13h-2.5M42,413.59h5M247.3,413.59h-5M42,406.04h2.5M247.3,406.04h-2.5M42,398.5h5M247.3,398.5h-5M42,390.96h2.5M247.3,390.96h-2.5M42,383.41h5M247.3,383.41h-5M42,375.87h2.5M247.3,375.87h-2.5M47.87,424.9v-2.3M53.73,424.9v-2.3M59.6,424.9v-2.3M65.46,424.9v-2.3M71.33,424.9v-5M77.19,424.9v-2.3M83.06,424.9v-2.3M88.93,424.9v-2.3M94.79,424.9v-2.3M100.66,424.9v-5M106.52,424.9v-2.3M112.39,424.9v-2.3M118.25,424.9v-2.3M124.12,424.9v-2.3M129.99,424.9v-5M135.85,424.9v-2.3M141.72,424.9v-2.3M147.58,424.9v-2.3M153.45,424.9v-2.3M159.31,424.9v-5M165.18,424.9v-2.3M171.05,424.9v-2.3M176.91,424.9v-2.3M182.78,424.9v-2.3M188.64,424.9v-5M194.51,424.9v-2.3M200.37,424.9v-2.3M206.24,424.9v-2.3M212.11,424.9v-2.3M217.97,424.9v-5M223.84,424.9v-2.3M229.7,424.9v-2.3M235.57,424.9v-2.3M241.43,424.9v-2.3M42,473.02h2.5M247.3,473.02h-2.5M42,464.27h5M247.3,464.27h-5M42,455.52h2.5M247.3,455.52h-2.5M42,446.77h5M247.3,446.77h-5M42,438.02h2.5M247.3,438.02h-2.5M42,429.27h5M247.3,429.27h-5M47.87,477.4v-2.3M53.73,477.4v-2.3M59.6,477.4v-2.3M65.46,477.4v-2.3M71.33,477.4v-5M77.19,477.4v-2.3M83.06,477.4v-2.3M88.93,477.4v-2.3M94.79,477.4v-2.3M100.66,477.4v-5M106.52,477.4v-2.3M112.39,477.4v-2.3M118.25,477.4v-2.3M124.12,477.4v-2.3M129.99,477.4v-5M135.85,477.4v-2.3M141.72,477.4v-2.3M147.58,477.4v-2.3M153.45,477.4v-2.3M159.31,477.4v-5M165.18,477.4v-2.3M171.05,477.4v-2.3M176.91,477.4v-2.3M182.78,477.4v-2.3M188.64,477.4v-5M194.51,477.4v-2.3M200.37,477.4v-2.3M206.24,477.4v-2.3M212.11,477.4v-2.3M217.97,477.4v-5M223.84,477.4v-2.3M229.7,477.4v-2.3M235.57,477.4v-2.3M241.43,477.4v-2.3M308.4,46.74h2.5M513.4,46.74h-2.5M308.4,39.29h2.5M513.4,39.29h-2.5M308.4,31.83h2.5M513.4,31.83h-2.5M308.4,24.37h5M513.4,24.37h-5M308.4,16.91h2.5M513.4,16.91h-2.5M308.4,9.46h2.5M513.4,9.46h-2.5M315.23,54.2v-2.3M322.07,54.2v-2.3M328.9,54.2v-2.3M335.73,54.2v-2.3M342.57,54.2v-5M349.4,54.2v-2.3M356.23,54.2v-2.3M363.07,54.2v-2.3M369.9,54.2v-2.3M376.73,54.2v-5M383.57,54.2v-2.3M390.4,54.2v-2.3M397.23,54.2v-2.3M404.07,54.2v-2.3M410.9,54.2v-5M417.73,54.2v-2.3M424.57,54.2v-2.3M431.4,54.2v-2.3M438.23,54.2v-2.3M445.07,54.2v-5M451.9,54.2v-2.3M458.73,54.2v-2.3M465.57,54.2v-2.3M472.4,54.2v-2.3M479.23,54.2v-5M486.07,54.2v-2.3M492.9,54.2v-2.3M499.73,54.2v-2.3M506.57,54.2v-2.3M308.4,99.71h2.5M513.4,99.71h-2.5M308.4,92.13h2.5M513.4,92.13h-2.5M308.4,84.54h2.5M513.4,84.54h-2.5M308.4,76.96h5M513.4,76.96h-5M308.4,69.37h2.5M513.4,69.37h-2.5M308.4,61.79h2.5M513.4,61.79h-2.5M315.23,107.3v-2.3M322.07,107.3v-2.3M328.9,107.3v-2.3M335.73,107.3v-2.3M342.57,107.3v-5M349.4,107.3v-2.3M356.23,107.3v-2.3M363.07,107.3v-2.3M369.9,107.3v-2.3M376.73,107.3v-5M383.57,107.3v-2.3M390.4,107.3v-2.3M397.23,107.3v-2.3M404.07,107.3v-2.3M410.9,107.3v-5M417.73,107.3v-2.3M424.57,107.3v-2.3M431.4,107.3v-2.3M438.23,107.3v-2.3M445.07,107.3v-5M451.9,107.3v-2.3M458.73,107.3v-2.3M465.57,107.3v-2.3M472.4,107.3v-2.3M479.23,107.3v-5M486.07,107.3v-2.3M492.9,107.3v-2.3M499.73,107.3v-2.3M506.57,107.3v-2.3M308.4,152.73h2.5M513.4,152.73h-2.5M308.4,145.16h2.5M513.4,145.16h-2.5M308.4,137.59h2.5M513.4,137.59h-2.5M308.4,130.01h5M513.4,130.01h-5M308.4,122.44h2.5M513.4,122.44h-2.5M308.4,114.87h2.5M513.4,114.87h-2.5M315.23,160.3v-2.3M322.07,160.3v-2.3M328.9,160.3v-2.3M335.73,160.3v-2.3M342.57,160.3v-5M349.4,160.3v-2.3M356.23,160.3v-2.3M363.07,160.3v-2.3M369.9,160.3v-2.3M376.73,160.3v-5M383.57,160.3v-2.3M390.4,160.3v-2.3M397.23,160.3v-2.3M404.07,160.3v-2.3M410.9,160.3v-5M417.73,160.3v-2.3M424.57,160.3v-2.3M431.4,160.3v-2.3M438.23,160.3v-2.3M445.07,160.3v-5M451.9,160.3v-2.3M458.73,160.3v-2.3M465.57,160.3v-2.3M472.4,160.3v-2.3M479.23,160.3v-5M486.07,160.3v-2.3M492.9,160.3v-2.3M499.73,160.3v-2.3M506.57,160.3v-2.3M308.4,205.64h2.5M513.4,205.64h-2.5M308.4,198.09h2.5M513.4,198.09h-2.5M308.4,190.53h2.5M513.4,190.53h-2.5M308.4,182.97h5M513.4,182.97h-5M308.4,175.41h2.5M513.4,175.41h-2.5M308.4,167.86h2.5M513.4,167.86h-2.5M315.23,213.2v-2.3M322.07,213.2v-2.3M328.9,213.2v-2.3M335.73,213.2v-2.3M342.57,213.2v-5M349.4,213.2v-2.3M356.23,213.2v-2.3M363.07,213.2v-2.3M369.9,213.2v-2.3M376.73,213.2v-5M383.57,213.2v-2.3M390.4,213.2v-2.3M397.23,213.2v-2.3M404.07,213.2v-2.3M410.9,213.2v-5M417.73,213.2v-2.3M424.57,213.2v-2.3M431.4,213.2v-2.3M438.23,213.2v-2.3M445.07,213.2v-5M451.9,213.2v-2.3M458.73,213.2v-2.3M465.57,213.2v-2.3M472.4,213.2v-2.3M479.23,213.2v-5M486.07,213.2v-2.3M492.9,213.2v-2.3M499.73,213.2v-2.3M506.57,213.2v-2.3M308.4,258.46h2.5M513.4,258.46h-2.5M308.4,250.91h2.5M513.4,250.91h-2.5M308.4,243.37h2.5M513.4,243.37h-2.5M308.4,235.83h5M513.4,235.83h-5M308.4,228.29h2.5M513.4,228.29h-2.5M308.4,220.74h2.5M513.4,220.74h-2.5M315.23,266v-2.3M322.07,266v-2.3M328.9,266v-2.3M335.73,266v-2.3M342.57,266v-5M349.4,266v-2.3M356.23,266v-2.3M363.07,266v-2.3M369.9,266v-2.3M376.73,266v-5M383.57,266v-2.3M390.4,266v-2.3M397.23,266v-2.3M404.07,266v-2.3M410.9,266v-5M417.73,266v-2.3M424.57,266v-2.3M431.4,266v-2.3M438.23,266v-2.3M445.07,266v-5M451.9,266v-2.3M458.73,266v-2.3M465.57,266v-2.3M472.4,266v-2.3M479.23,266v-5M486.07,266v-2.3M492.9,266v-2.3M499.73,266v-2.3M506.57,266v-2.3M308.4,311.43h2.5M513.4,311.43h-2.5M308.4,303.86h2.5M513.4,303.86h-2.5M308.4,296.29h2.5M513.4,296.29h-2.5M308.4,288.71h5M513.4,288.71h-5M308.4,281.14h2.5M513.4,281.14h-2.5M308.4,273.57h2.5M513.4,273.57h-2.5M315.23,319v-2.3M322.07,319v-2.3M328.9,319v-2.3M335.73,319v-2.3M342.57,319v-5M349.4,319v-2.3M356.23,319v-2.3M363.07,319v-2.3M369.9,319v-2.3M376.73,319v-5M383.57,319v-2.3M390.4,319v-2.3M397.23,319v-2.3M404.07,319v-2.3M410.9,319v-5M417.73,319v-2.3M424.57,319v-2.3M431.4,319v-2.3M438.23,319v-2.3M445.07,319v-5M451.9,319v-2.3M458.73,319v-2.3M465.57,319v-2.3M472.4,319v-2.3M479.23,319v-5M486.07,319v-2.3M492.9,319v-2.3M499.73,319v-2.3M506.57,319v-2.3M308.4,361.48h2.5M513.4,361.48h-2.5M308.4,350.86h5M513.4,350.86h-5M308.4,340.24h2.5M513.4,340.24h-2.5M308.4,329.62h5M513.4,329.62h-5M315.23,372.1v-2.3M322.07,372.1v-2.3M328.9,372.1v-2.3M335.73,372.1v-2.3M342.57,372.1v-5M349.4,372.1v-2.3M356.23,372.1v-2.3M363.07,372.1v-2.3M369.9,372.1v-2.3M376.73,372.1v-5M383.57,372.1v-2.3M390.4,372.1v-2.3M397.23,372.1v-2.3M404.07,372.1v-2.3M410.9,372.1v-5M417.73,372.1v-2.3M424.57,372.1v-2.3M431.4,372.1v-2.3M438.23,372.1v-2.3M445.07,372.1v-5M451.9,372.1v-2.3M458.73,372.1v-2.3M465.57,372.1v-2.3M472.4,372.1v-2.3M479.23,372.1v-5M486.07,372.1v-2.3M492.9,372.1v-2.3M499.73,372.1v-2.3M506.57,372.1v-2.3M308.4,417.36h2.5M513.4,417.36h-2.5M308.4,409.81h2.5M513.4,409.81h-2.5M308.4,402.27h2.5M513.4,402.27h-2.5M308.4,394.73h5M513.4,394.73h-5M308.4,387.19h2.5M513.4,387.19h-2.5M308.4,379.64h2.5M513.4,379.64h-2.5M315.23,424.9v-2.3M322.07,424.9v-2.3M328.9,424.9v-2.3M335.73,424.9v-2.3M342.57,424.9v-5M349.4,424.9v-2.3M356.23,424.9v-2.3M363.07,424.9v-2.3M369.9,424.9v-2.3M376.73,424.9v-5M383.57,424.9v-2.3M390.4,424.9v-2.3M397.23,424.9v-2.3M404.07,424.9v-2.3M410.9,424.9v-5M417.73,424.9v-2.3M424.57,424.9v-2.3M431.4,424.9v-2.3M438.23,424.9v-2.3M445.07,424.9v-5M451.9,424.9v-2.3M458.73,424.9v-2.3M465.57,424.9v-2.3M472.4,424.9v-2.3M479.23,424.9v-5M486.07,424.9v-2.3M492.9,424.9v-2.3M499.73,424.9v-2.3M506.57,424.9v-2.3M308.4,466.9h2.5M513.4,466.9h-2.5M308.4,456.4h5M513.4,456.4h-5M308.4,445.9h2.5M513.4,445.9h-2.5M308.4,435.4h5M513.4,435.4h-5M315.23,477.4v-2.3M322.07,477.4v-2.3M328.9,477.4v-2.3M335.73,477.4v-2.3M342.57,477.4v-5M349.4,477.4v-2.3M356.23,477.4v-2.3M363.07,477.4v-2.3M369.9,477.4v-2.3M376.73,477.4v-5M383.57,477.4v-2.3M390.4,477.4v-2.3M397.23,477.4v-2.3M404.07,477.4v-2.3M410.9,477.4v-5M417.73,477.4v-2.3M424.57,477.4v-2.3M431.4,477.4v-2.3M438.23,477.4v-2.3M445.07,477.4v-5M451.9,477.4v-2.3M458.73,477.4v-2.3M465.57,477.4v-2.3M472.4,477.4v-2.3M479.23,477.4v-5M486.07,477.4v-2.3M492.9,477.4v-2.3M499.73,477.4v-2.3M506.57,477.4v-2.3" stroke="#000" stroke-width="1.6" fill="none"/>
<rect x="145.8" y="10.2" width="35" height="19.2" fill="#000"/>
<rect x="141.9" y="6.3" width="35.4" height="19" fill="#fff" stroke="#888" stroke-width="1"/>
<text x="143.8" y="20.75" font-size="13.9" class="b" style="stroke-width:0.1px">GGA</text>
<rect x="411.7" y="10.2" width="35" height="19.2" fill="#000"/>
<rect x="407.8" y="6.3" width="35.4" height="19" fill="#fff" stroke="#888" stroke-width="1"/>
<text x="409.7" y="20.75" font-size="13.9" class="b" style="stroke-width:0.1px">GGA</text>
<text x="0" y="14.1" font-size="18.5">(a)</text>
<text x="265.9" y="14.1" font-size="18.5">(b)</text>
<text transform="translate(17,248) rotate(-90) scale(1.3,1.05)" font-size="14" class="s b" style="stroke-width:0.45px">ε</text>
<text transform="translate(22.6,241.6) rotate(-90)" font-size="9.4" class="b">1</text>
<text transform="translate(283.3,248) rotate(-90) scale(1.3,1.05)" font-size="14" class="s b" style="stroke-width:0.45px">ε</text>
<text transform="translate(288.9,241.6) rotate(-90)" font-size="9.4" class="b">2</text>
<text x="106.9" y="511.1" font-size="13" letter-spacing="0.62" class="b">Energy (eV)</text>
<text x="373.2" y="511.1" font-size="13" letter-spacing="0.62" class="b">Energy (eV)</text>
</svg></body></html>
